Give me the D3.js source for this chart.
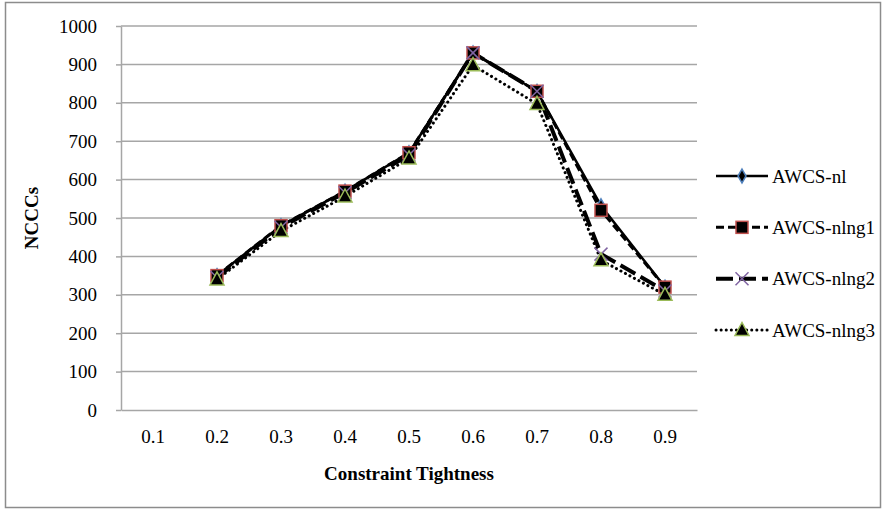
<!DOCTYPE html>
<html>
<head>
<meta charset="utf-8">
<script src="https://cdn.jsdelivr.net/npm/d3@7"></script>
<style>
  body { margin: 0; background: #fff; }
  svg text { font-family: "Liberation Serif", "DejaVu Serif", serif; fill: #000; }
</style>
</head>
<body>
<div id="container"></div>
<script>
// chart data
const tightness = ['0.1', '0.2', '0.3', '0.4', '0.5', '0.6', '0.7', '0.8', '0.9'];
const yTicks = [0, 100, 200, 300, 400, 500, 600, 700, 800, 900, 1000];
const seriesNames = ['AWCS-nl', 'AWCS-nlng1', 'AWCS-nlng2', 'AWCS-nlng3'];
// values for 0.2 .. 0.9 (0.1 has no point)
const nl    = [350, 480, 570, 670, 930, 830, 532, 320];
const nlng1 = [350, 480, 570, 670, 930, 830, 520, 320];
const nlng2 = [345, 476, 566, 664, 930, 830, 406, 310];
const nlng3 = [340, 466, 556, 655, 898, 797, 390, 300];

const width = 883, height = 510;
const margin = {top: 26, left: 121, right: 186, bottom: 100};

const svg = d3.select('#container').append('svg')
    .attr('width', width)
    .attr('height', height);

// outer frame
svg.append('rect')
    .attr('x', 5.5).attr('y', 2.5)
    .attr('width', 875).attr('height', 505)
    .attr('fill', 'none')
    .attr('stroke', '#8c8c8c')
    .attr('stroke-width', 1.5);

const x = d3.scaleBand()
    .domain(tightness)
    .range([margin.left, width - margin.right]);

const y = d3.scaleLinear()
    .domain([0, 1000])
    .range([height - margin.bottom, margin.top]);

// gridlines
svg.append('g')
    .selectAll('line')
    .data(yTicks.filter(d => d > 0))
    .enter().append('line')
    .attr('x1', margin.left).attr('x2', width - margin.right)
    .attr('y1', d => y(d)).attr('y2', d => y(d))
    .attr('stroke', '#a6a6a6')
    .attr('stroke-width', 1.5);

// y axis
const yAxis = svg.append('g')
    .attr('transform', `translate(${margin.left},0)`)
    .call(d3.axisLeft(y).tickValues(yTicks).tickFormat(d3.format('d'))
        .tickSize(5).tickPadding(19).tickSizeOuter(0));
yAxis.select('.domain').attr('stroke', '#a6a6a6').attr('stroke-width', 1.5);
yAxis.selectAll('.tick line').attr('stroke', '#a6a6a6').attr('stroke-width', 1.5);
yAxis.selectAll('.tick text').style('font-size', '19px');

// x axis
const xAxis = svg.append('g')
    .attr('transform', `translate(0,${y(0)})`)
    .call(d3.axisBottom(x).tickSize(0).tickPadding(20).tickSizeOuter(0));
xAxis.select('.domain').attr('stroke', '#a6a6a6').attr('stroke-width', 1.5);
xAxis.selectAll('.tick text').style('font-size', '19px');

// axis titles
svg.append('text')
    .attr('x', (margin.left + width - margin.right) / 2)
    .attr('y', 480)
    .attr('text-anchor', 'middle')
    .attr('font-weight', 'bold')
    .style('font-size', '19px')
    .text('Constraint Tightness');

svg.append('text')
    .attr('transform', `translate(38,${(margin.top + y(0)) / 2}) rotate(-90)`)
    .attr('text-anchor', 'middle')
    .attr('font-weight', 'bold')
    .style('font-size', '19px')
    .text('NCCCs');

// series definitions
const pts = tightness.slice(1);
const series = [
    {name: seriesNames[0], values: nl,    dash: null,     width: 2.5, cap: 'butt',  marker: 'diamond'},
    {name: seriesNames[1], values: nlng1, dash: '8,4',    width: 3,   cap: 'butt',  marker: 'square'},
    {name: seriesNames[2], values: nlng2, dash: '17,6',   width: 4,   cap: 'butt',  marker: 'cross'},
    {name: seriesNames[3], values: nlng3, dash: '0.1,5',  width: 3,   cap: 'round', marker: 'triangle'}
];

const cx = d => x(d) + x.bandwidth() / 2;
const line = d3.line()
    .x(d => cx(d[0]))
    .y(d => y(d[1]));

function drawMarker(g, type, px, py) {
    if (type === 'diamond') {
        g.append('path')
            .attr('d', d3.symbol(d3.symbolDiamond, 55)())
            .attr('transform', `translate(${px},${py})`)
            .attr('fill', '#000').attr('stroke', '#4f81bd').attr('stroke-width', 1.5);
    } else if (type === 'square') {
        g.append('rect')
            .attr('x', px - 6).attr('y', py - 6)
            .attr('width', 12).attr('height', 12)
            .attr('fill', '#000').attr('stroke', '#c0504d').attr('stroke-width', 1.5);
    } else if (type === 'cross') {
        g.append('path')
            .attr('d', `M${px - 6.5},${py - 6.5}L${px + 6.5},${py + 6.5}M${px - 6.5},${py + 6.5}L${px + 6.5},${py - 6.5}`)
            .attr('stroke', '#8064a2').attr('stroke-width', 1.5);
    } else {
        g.append('path')
            .attr('d', `M${px},${py - 7.5}L${px + 7},${py + 5.5}L${px - 7},${py + 5.5}Z`)
            .attr('fill', '#000').attr('stroke', '#9bbb59').attr('stroke-width', 1.5);
    }
}

const plot = svg.append('g');
series.forEach(s => {
    const data = pts.map((p, i) => [p, s.values[i]]);
    plot.append('path')
        .datum(data)
        .attr('d', line)
        .attr('fill', 'none')
        .attr('stroke', '#000')
        .attr('stroke-width', s.width)
        .attr('stroke-linecap', s.cap)
        .attr('stroke-dasharray', s.dash);
});
series.forEach(s => {
    pts.forEach((p, i) => drawMarker(plot, s.marker, cx(p), y(s.values[i])));
});

// legend
const legendY = d3.scalePoint().domain(seriesNames).range([176, 330]);
const legend = svg.append('g');
series.forEach(s => {
    const ly = legendY(s.name);
    legend.append('line')
        .attr('x1', 716).attr('x2', 768)
        .attr('y1', ly).attr('y2', ly)
        .attr('stroke', '#000')
        .attr('stroke-width', s.width)
        .attr('stroke-linecap', s.cap)
        .attr('stroke-dasharray', s.dash);
    drawMarker(legend, s.marker, 742, ly);
    legend.append('text')
        .attr('x', 772).attr('y', ly)
        .attr('dy', '0.35em')
        .style('font-size', '19px')
        .text(s.name);
});
</script>
</body>
</html>
